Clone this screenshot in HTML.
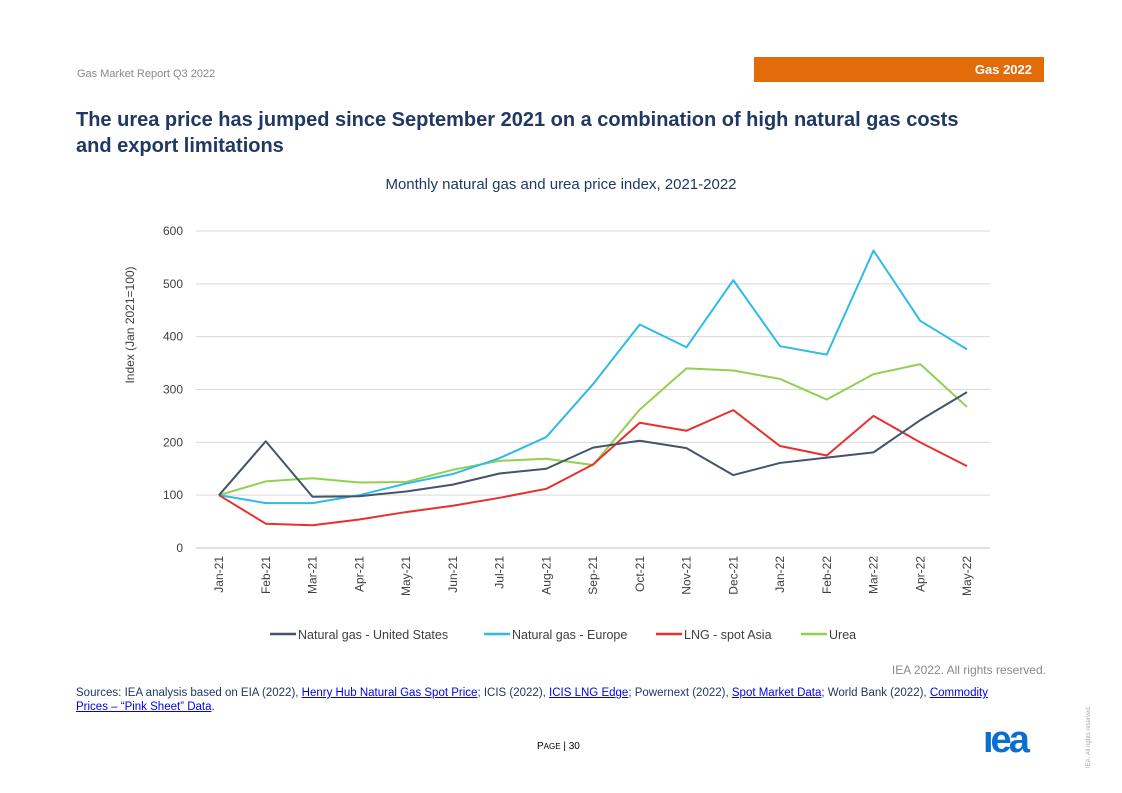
<!DOCTYPE html>
<html><head><meta charset="utf-8">
<style>
body{margin:0;width:1122px;height:793px;background:#fff;font-family:"Liberation Sans",Arial,sans-serif;position:relative;overflow:hidden}
.abs{position:absolute}
a{color:#0000ee;text-decoration:underline}
</style></head><body>
<div class="abs" style="left:77px;top:68px;font-size:11px;color:#888">Gas Market Report Q3 2022</div>
<div class="abs" style="left:754px;top:57px;width:290px;height:25px;background:#e36c0a;color:#fff;font-size:13px;font-weight:bold;text-align:right;box-sizing:border-box;padding:5px 12px 0 0">Gas 2022</div>
<div class="abs" style="left:76px;top:107px;width:900px;font-size:20px;font-weight:bold;color:#1f3864;line-height:26px">The urea price has jumped since September 2021 on a combination of high natural gas costs and export limitations</div>
<div class="abs" style="left:0;width:1122px;top:176px;text-align:center;font-size:15px;color:#1f3864">Monthly natural gas and urea price index, 2021-2022</div>
<svg class="abs" style="left:0;top:0" width="1122" height="793" id="chart"></svg>
<div class="abs" style="left:860px;top:663px;width:186px;text-align:right;font-size:12px;color:#888">IEA 2022. All rights reserved.</div>
<div class="abs" style="left:76px;top:686px;width:935px;font-size:11.5px;line-height:14px;color:#1f3864">Sources: IEA analysis based on EIA (2022), <a>Henry Hub Natural Gas Spot Price</a>; ICIS (2022), <a>ICIS LNG Edge</a>; Powernext (2022), <a>Spot Market Data</a>; World Bank (2022), <a>Commodity Prices – “Pink Sheet” Data</a>.</div>
<div class="abs" style="left:537px;top:741px;font-size:10px;color:#000">P<span style="font-size:8px">AGE</span> | 30</div>
<div class="abs" style="left:983px;top:722px;font-size:38px;font-weight:900;color:#0a6fd1;letter-spacing:-3px;line-height:36px">ıea</div>
<div class="abs" style="left:1086px;top:768px;font-size:6px;color:#aaa;white-space:nowrap;transform:rotate(-90deg);transform-origin:left top">IEA. All rights reserved.</div>
<script>
const months=["Jan-21","Feb-21","Mar-21","Apr-21","May-21","Jun-21","Jul-21","Aug-21","Sep-21","Oct-21","Nov-21","Dec-21","Jan-22","Feb-22","Mar-22","Apr-22","May-22"];
const yTicks=[0,100,200,300,400,500,600];
const seriesNames=["Natural gas - United States","Natural gas - Europe","LNG - spot Asia","Urea"];
const usGas=[100,202,97,98,107,120,141,150,190,203,189,138,161,171,181,242,295];
const euGas=[100,85,85,100,122,140,170,210,310,423,380,507,382,366,563,430,376];
const lngAsia=[100,46,43,54,68,80,95,112,158,237,222,261,193,175,250,200,155];
const urea=[100,126,132,124,125,148,165,169,157,262,340,336,320,281,329,348,267];
const colors=["#44546a","#2ebbe8","#e8302f","#92d050"];
const svg=document.getElementById('chart');const NS="http://www.w3.org/2000/svg";
function mk(t,a,txt){const e=document.createElementNS(NS,t);for(const k in a)e.setAttribute(k,a[k]);if(txt!=null)e.textContent=txt;svg.appendChild(e);return e;}
const x0=219,dx=(967-219)/(months.length-1);
const X=i=>x0+i*dx, Y=v=>548-v*(548-231)/600;
yTicks.forEach(v=>{
 const l=mk('line',{x1:196,x2:990,y1:Y(v),y2:Y(v),stroke:v===0?'#bfbfbf':'#d9d9d9','stroke-width':1});
 
 const t=mk('text',{x:183,y:Y(v)+4,'text-anchor':'end','font-size':12,fill:'#404040'},v);
 
});
months.forEach((m,i)=>{
 const t=mk('text',{transform:`translate(${X(i)+4},556) rotate(-90)`,'text-anchor':'end','font-size':12,fill:'#404040'},m);
 
});
const yt=mk('text',{transform:'translate(134,325) rotate(-90)','text-anchor':'middle','font-size':12,fill:'#404040'},'Index (Jan 2021=100)');

const data=[usGas,euGas,lngAsia,urea];
[3,1,2,0].forEach(s=>{
 const p=mk('polyline',{points:data[s].map((v,i)=>X(i)+','+Y(v)).join(' '),fill:'none',stroke:colors[s],'stroke-width':2,'stroke-linejoin':'round'});
 
});
const lx=[270,484,656,801];
seriesNames.forEach((n,s)=>{
 const l=mk('line',{x1:lx[s],x2:lx[s]+26,y1:634,y2:634,stroke:colors[s],'stroke-width':2.5});
 
 const t=mk('text',{x:lx[s]+28,y:639,'font-size':12.5,fill:'#404040'},n);
 
});
</script>
</body></html>
